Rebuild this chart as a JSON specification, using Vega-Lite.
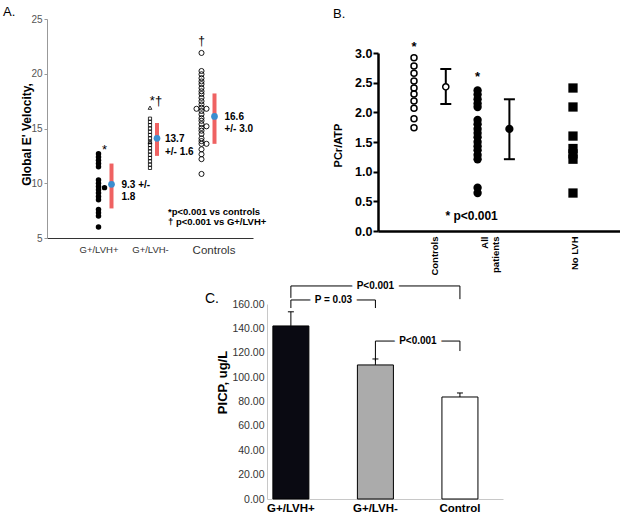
{
"$schema": "https://vega.github.io/schema/vega-lite/v6.json",
"padding": {"left": 3, "top": 6, "right": 0, "bottom": 0},
"background": "white",
"config": {"font": "Liberation Sans", "view": {"stroke": null}, "axis": {"grid": false}},
"datasets": {
"velocity": [
{"group":"G+/LVH+","value":12.7},{"group":"G+/LVH+","value":12.4},{"group":"G+/LVH+","value":12.1},{"group":"G+/LVH+","value":11.8},{"group":"G+/LVH+","value":11.5},{"group":"G+/LVH+","value":10.3},{"group":"G+/LVH+","value":10.0},{"group":"G+/LVH+","value":9.7},{"group":"G+/LVH+","value":9.4},{"group":"G+/LVH+","value":9.1},{"group":"G+/LVH+","value":8.8},{"group":"G+/LVH+","value":8.5},{"group":"G+/LVH+","value":7.6},{"group":"G+/LVH+","value":7.3},{"group":"G+/LVH+","value":7.0},{"group":"G+/LVH+","value":6.0},
{"group":"G+/LVH-","value":15.9},{"group":"G+/LVH-","value":15.6},{"group":"G+/LVH-","value":15.3},{"group":"G+/LVH-","value":15.0},{"group":"G+/LVH-","value":14.7},{"group":"G+/LVH-","value":14.4},{"group":"G+/LVH-","value":14.1},{"group":"G+/LVH-","value":13.8},{"group":"G+/LVH-","value":13.5},{"group":"G+/LVH-","value":13.2},{"group":"G+/LVH-","value":12.9},{"group":"G+/LVH-","value":12.6},{"group":"G+/LVH-","value":12.3},{"group":"G+/LVH-","value":12.0},{"group":"G+/LVH-","value":11.7},{"group":"G+/LVH-","value":11.4},
{"group":"Controls","value":21.9},{"group":"Controls","value":20.25},{"group":"Controls","value":19.95},{"group":"Controls","value":19.6},{"group":"Controls","value":19.3},{"group":"Controls","value":19.05},{"group":"Controls","value":18.7},{"group":"Controls","value":18.4},{"group":"Controls","value":18.15},{"group":"Controls","value":17.8},{"group":"Controls","value":17.5},{"group":"Controls","value":17.2},{"group":"Controls","value":16.9},{"group":"Controls","value":16.6},{"group":"Controls","value":16.3},{"group":"Controls","value":15.95},{"group":"Controls","value":15.7},{"group":"Controls","value":15.4},{"group":"Controls","value":15.05},{"group":"Controls","value":14.8},{"group":"Controls","value":14.5},{"group":"Controls","value":14.1},{"group":"Controls","value":13.85},{"group":"Controls","value":13.6},{"group":"Controls","value":13.1},{"group":"Controls","value":12.65},{"group":"Controls","value":12.2},{"group":"Controls","value":10.85}
],
"velocity_offset": [
{"group":"G+/LVH+","value":9.6,"side":"right"},
{"group":"Controls","value":16.8,"side":"left"},
{"group":"Controls","value":16.8,"side":"right"},
{"group":"Controls","value":15.2,"side":"right"},
{"group":"Controls","value":13.6,"side":"right"}
],
"velocity_triangles": [{"group":"G+/LVH-","value":16.9},{"group":"G+/LVH-","value":13.75}],
"summaryA": [
{"group":"G+/LVH+","value":9.9,"lo":7.7,"hi":11.8,"label":"9.3 +/-\n1.8"},
{"group":"G+/LVH-","value":14.1,"lo":12.5,"hi":15.5,"label":"13.7\n+/- 1.6"},
{"group":"Controls","value":16.1,"lo":13.6,"hi":18.2,"label":"16.6\n+/- 3.0"}
],
"notesA": [
{"group":"G+/LVH+","value":13.0,"text":"*"},
{"group":"G+/LVH-","value":17.5,"text":"*†"},
{"group":"Controls","value":23.0,"text":"†"}
],
"footA": [
{"group":"G+/LVH-","value":7.4,"text":"*p<0.001 vs controls"},
{"group":"G+/LVH-","value":6.5,"text":"† p<0.001 vs G+/LVH+"}
],
"pcr": [
{"group":"Controls","value":2.92},{"group":"Controls","value":2.78},{"group":"Controls","value":2.66},{"group":"Controls","value":2.53},{"group":"Controls","value":2.41},{"group":"Controls","value":2.31},{"group":"Controls","value":2.19},{"group":"Controls","value":2.07},{"group":"Controls","value":1.89},{"group":"Controls","value":1.74},
{"group":"All patients","value":2.37},{"group":"All patients","value":2.30},{"group":"All patients","value":2.22},{"group":"All patients","value":2.15},{"group":"All patients","value":2.09},{"group":"All patients","value":1.87},{"group":"All patients","value":1.80},{"group":"All patients","value":1.72},{"group":"All patients","value":1.65},{"group":"All patients","value":1.58},{"group":"All patients","value":1.50},{"group":"All patients","value":1.43},{"group":"All patients","value":1.36},{"group":"All patients","value":1.28},{"group":"All patients","value":1.21},{"group":"All patients","value":0.73},{"group":"All patients","value":0.64},
{"group":"No LVH","value":2.41},{"group":"No LVH","value":2.09},{"group":"No LVH","value":1.60},{"group":"No LVH","value":1.39},{"group":"No LVH","value":1.30},{"group":"No LVH","value":1.21},{"group":"No LVH","value":0.64}
],
"pcrSummary": [
{"group":"Controls mean","value":2.43,"lo":2.14,"hi":2.73},
{"group":"All patients mean","value":1.72,"lo":1.21,"hi":2.22}
],
"notesB": [{"group":"Controls","value":3.1,"text":"*"},{"group":"All patients","value":2.6,"text":"*"}],
"pB": [{"group":"All patients","value":0.25,"text":"* p<0.001"}],
"picp": [
{"group":"G+/LVH+","value":142,"upper":153.6},
{"group":"G+/LVH-","value":110,"upper":114.9},
{"group":"Control","value":83.7,"upper":87}
],
"brackets": [
{"bracket":"b1","group":"G+/LVH+","value":165,"step":1},{"bracket":"b1","group":"G+/LVH+","value":174.8,"step":2},{"bracket":"b1","group":"Control","value":174.8,"step":3},{"bracket":"b1","group":"Control","value":164,"step":4},
{"bracket":"b2","group":"G+/LVH+","value":156.7,"step":1},{"bracket":"b2","group":"G+/LVH+","value":163.3,"step":2},{"bracket":"b2","group":"G+/LVH-","value":163.3,"step":3},{"bracket":"b2","group":"G+/LVH-","value":156.7,"step":4},
{"bracket":"b3","group":"G+/LVH-","value":113.2,"step":1},{"bracket":"b3","group":"G+/LVH-","value":129.6,"step":2},{"bracket":"b3","group":"Control","value":129.6,"step":3},{"bracket":"b3","group":"Control","value":121.4,"step":4}
],
"pvals": [
{"bracket":"b1","group":"G+/LVH-","value":174.8,"text":"P<0.001"},
{"bracket":"b2","group":"G+/LVH+","value":163.3,"text":"P = 0.03"},
{"bracket":"b3","group":"G+/LVH-","value":129.6,"text":"P<0.001"}
]
},
"vconcat": [
{
"hconcat": [
{
"width": 206, "height": 219,
"title": {"text": "A.", "anchor": "start", "frame": "group", "dx": -44, "dy": 5, "fontSize": 13, "fontWeight": "normal", "offset": 0},
"encoding": {
"x": {"field": "group", "type": "nominal", "scale": {"type": "point", "domain": ["G+/LVH+", "G+/LVH-", "Controls"], "padding": 1},
"axis": {"title": null, "labelAngle": 0, "ticks": false, "domainColor": "#333", "labelColor": "#333", "labelFontSize": {"condition": {"test": "datum.value == 'Controls'", "value": 11.5}, "value": 9.5}, "labelPadding": 6, "labelOffset": {"condition": {"test": "datum.value == 'Controls'", "value": 12}, "value": 0}}},
"y": {"field": "value", "type": "quantitative", "scale": {"domain": [5, 25], "nice": false, "zero": false}, "title": "Global E' Velocity,",
"axis": {"values": [5, 10, 15, 20, 25], "labelColor": "#555", "labelFontSize": 10, "domainColor": "#999", "tickColor": "#999", "tickSize": 3, "labelPadding": 2, "titleFontSize": 12, "titleFontWeight": "bold", "titleColor": "black", "titleX": -21, "titleY": 115, "titleBaseline": "middle", "titleAngle": -90}}
},
"layer": [
{"data": {"name": "velocity"}, "transform": [{"filter": "datum.group == 'G+/LVH+'"}], "mark": {"type": "circle", "size": 30, "color": "black", "opacity": 1}},
{"data": {"name": "velocity"}, "transform": [{"filter": "datum.group == 'G+/LVH-'"}], "mark": {"type": "point", "shape": "square", "size": 10, "filled": false, "color": "black", "strokeWidth": 0.8, "opacity": 1}},
{"data": {"name": "velocity"}, "transform": [{"filter": "datum.group == 'Controls'"}], "mark": {"type": "point", "shape": "circle", "size": 26, "filled": false, "color": "black", "strokeWidth": 0.9, "opacity": 1}},
{"data": {"name": "velocity_triangles"}, "mark": {"type": "point", "shape": "triangle-up", "size": 14, "filled": false, "color": "black", "strokeWidth": 0.8, "opacity": 1}},
{"data": {"name": "velocity_offset"}, "transform": [{"filter": "datum.group == 'G+/LVH+'"}], "mark": {"type": "circle", "size": 30, "color": "black", "opacity": 1}, "encoding": {"xOffset": {"value": 6}}},
{"data": {"name": "velocity_offset"}, "transform": [{"filter": "datum.group == 'Controls' && datum.side == 'right'"}], "mark": {"type": "point", "shape": "circle", "size": 26, "filled": false, "color": "black", "strokeWidth": 0.9, "opacity": 1}, "encoding": {"xOffset": {"value": 5}}},
{"data": {"name": "velocity_offset"}, "transform": [{"filter": "datum.group == 'Controls' && datum.side == 'left'"}], "mark": {"type": "point", "shape": "circle", "size": 26, "filled": false, "color": "black", "strokeWidth": 0.9, "opacity": 1}, "encoding": {"xOffset": {"value": -5}}},
{"data": {"name": "summaryA"}, "transform": [{"filter": "datum.group != 'G+/LVH-'"}], "mark": {"type": "rule", "color": "#ef6262", "strokeWidth": 4}, "encoding": {"y": {"field": "lo", "type": "quantitative", "title": "Global E' Velocity,"}, "y2": {"field": "hi"}, "xOffset": {"value": 13}}},
{"data": {"name": "summaryA"}, "transform": [{"filter": "datum.group == 'G+/LVH-'"}], "mark": {"type": "rule", "color": "#ef6262", "strokeWidth": 4}, "encoding": {"y": {"field": "lo", "type": "quantitative", "title": "Global E' Velocity,"}, "y2": {"field": "hi"}, "xOffset": {"value": 7}}},
{"data": {"name": "summaryA"}, "transform": [{"filter": "datum.group != 'G+/LVH-'"}], "mark": {"type": "circle", "size": 45, "color": "#3a8ed0", "opacity": 1}, "encoding": {"xOffset": {"value": 13}}},
{"data": {"name": "summaryA"}, "transform": [{"filter": "datum.group == 'G+/LVH-'"}], "mark": {"type": "circle", "size": 45, "color": "#3a8ed0", "opacity": 1}, "encoding": {"xOffset": {"value": 7}}},
{"data": {"name": "summaryA"}, "transform": [{"filter": "datum.group != 'G+/LVH-'"}], "mark": {"type": "text", "align": "left", "baseline": "top", "dx": 23, "dy": -4, "fontSize": 10, "fontWeight": "bold", "lineBreak": "\n", "lineHeight": 12, "color": "black"}, "encoding": {"text": {"field": "label"}}},
{"data": {"name": "summaryA"}, "transform": [{"filter": "datum.group == 'G+/LVH-'"}], "mark": {"type": "text", "align": "left", "baseline": "top", "dx": 15, "dy": -4, "fontSize": 10, "fontWeight": "bold", "lineBreak": "\n", "lineHeight": 13, "color": "black"}, "encoding": {"text": {"field": "label"}}},
{"data": {"name": "notesA"}, "transform": [{"filter": "datum.group != 'Controls'"}], "mark": {"type": "text", "align": "center", "baseline": "middle", "dx": 6, "fontSize": 13, "color": "black"}, "encoding": {"text": {"field": "text"}}},
{"data": {"name": "notesA"}, "transform": [{"filter": "datum.group == 'Controls'"}], "mark": {"type": "text", "align": "center", "baseline": "middle", "fontSize": 12, "color": "black"}, "encoding": {"text": {"field": "text"}}},
{"data": {"name": "footA"}, "mark": {"type": "text", "align": "left", "baseline": "middle", "dx": 18, "fontSize": 9.5, "fontWeight": "bold", "color": "black"}, "encoding": {"text": {"field": "text"}}}
]
},
{
"vconcat": [
{"data": {"values": []}, "mark": "point", "width": 10, "height": 24},
{
"width": 242, "height": 178,
"title": {"text": "B.", "anchor": "start", "frame": "group", "dx": -45, "dy": -20, "fontSize": 13, "fontWeight": "normal", "offset": 0},
"encoding": {
"x": {"field": "group", "type": "nominal", "scale": {"type": "point", "domain": ["Controls", "Controls mean", "All patients", "All patients mean", " ", "No LVH", "  "], "padding": 0.805, "align": 0.703},
"axis": {"title": null, "values": ["Controls", "All patients", "No LVH"], "labelAngle": -90, "labelFontWeight": "bold", "labelFontSize": 9.5, "labelColor": "black", "ticks": false, "domainColor": "black", "domainWidth": 2.5, "labelPadding": 5, "labelLineHeight": 11, "labelExpr": "datum.value == 'All patients' ? ['All', 'patients'] : datum.value", "labelOffset": {"condition": [{"test": "datum.value == 'Controls'", "value": 21}, {"test": "datum.value == 'All patients'", "value": 7}], "value": 2}}},
"y": {"field": "value", "type": "quantitative", "scale": {"domain": [0, 3], "nice": false}, "title": "PCr/ATP",
"axis": {"values": [0, 0.5, 1, 1.5, 2, 2.5, 3], "format": ".1f", "labelFontWeight": "bold", "labelFontSize": 12.5, "labelColor": "black", "tickColor": "black", "tickWidth": 2, "tickSize": 5, "domainColor": "black", "domainWidth": 2.5, "labelPadding": 1, "titleFontWeight": "bold", "titleFontSize": 11, "titleColor": "black", "titleX": -40, "titleY": 92, "titleBaseline": "middle", "titleAngle": -90}}
},
"layer": [
{"data": {"name": "pcr"}, "transform": [{"filter": "datum.group == 'Controls'"}], "mark": {"type": "point", "shape": "circle", "size": 36, "filled": false, "color": "black", "strokeWidth": 1.5, "opacity": 1}},
{"data": {"name": "pcr"}, "transform": [{"filter": "datum.group == 'All patients'"}], "mark": {"type": "circle", "size": 70, "color": "black", "opacity": 1}},
{"data": {"name": "pcr"}, "transform": [{"filter": "datum.group == 'No LVH'"}], "mark": {"type": "square", "size": 86, "color": "black", "opacity": 1}},
{"data": {"name": "pcrSummary"}, "mark": {"type": "rule", "color": "black", "strokeWidth": 2}, "encoding": {"y": {"field": "lo", "type": "quantitative", "title": "PCr/ATP"}, "y2": {"field": "hi"}}},
{"data": {"name": "pcrSummary"}, "mark": {"type": "tick", "orient": "horizontal", "size": 11, "thickness": 2, "color": "black", "opacity": 1}, "encoding": {"y": {"field": "lo", "type": "quantitative", "title": "PCr/ATP"}}},
{"data": {"name": "pcrSummary"}, "mark": {"type": "tick", "orient": "horizontal", "size": 11, "thickness": 2, "color": "black", "opacity": 1}, "encoding": {"y": {"field": "hi", "type": "quantitative", "title": "PCr/ATP"}}},
{"data": {"name": "pcrSummary"}, "transform": [{"filter": "datum.group == 'Controls mean'"}], "mark": {"type": "point", "shape": "circle", "size": 38, "filled": true, "fill": "white", "stroke": "black", "strokeWidth": 1.5, "opacity": 1}},
{"data": {"name": "pcrSummary"}, "transform": [{"filter": "datum.group == 'All patients mean'"}], "mark": {"type": "circle", "size": 68, "color": "black", "opacity": 1}},
{"data": {"name": "notesB"}, "mark": {"type": "text", "align": "center", "baseline": "middle", "fontSize": 13, "fontWeight": "bold", "color": "black"}, "encoding": {"text": {"field": "text"}}},
{"data": {"name": "pB"}, "mark": {"type": "text", "align": "center", "baseline": "middle", "dx": -6, "fontSize": 12, "fontWeight": "bold", "color": "black"}, "encoding": {"text": {"field": "text"}}}
]
}
],
"spacing": 10, "bounds": "flush"
}
],
"spacing": 125, "bounds": "flush"
},
{
"hconcat": [
{"data": {"values": []}, "mark": "point", "width": 210, "height": 10},
{
"width": 236, "height": 195,
"title": {"text": "C.", "anchor": "start", "frame": "group", "dx": -62, "dy": 25, "fontSize": 14, "fontWeight": "normal", "offset": 0},
"encoding": {
"x": {"field": "group", "type": "nominal", "scale": {"type": "band", "domain": ["G+/LVH+", "G+/LVH-", "Control"], "paddingInner": 0.574, "paddingOuter": 0.183, "align": 0.19},
"axis": {"title": null, "labelAngle": 0, "ticks": false, "domainColor": "#c8c8c8", "labelColor": "black", "labelFontWeight": "bold", "labelFontSize": 11.5, "labelPadding": 3}},
"y": {"field": "value", "type": "quantitative", "scale": {"domain": [0, 160], "nice": false}, "title": "PICP, ug/L",
"axis": {"values": [0, 20, 40, 60, 80, 100, 120, 140, 160], "format": ".2f", "ticks": false, "domainColor": "#c8c8c8", "labelColor": "#333", "labelFontSize": 10.5, "labelPadding": 3, "titleFontWeight": "bold", "titleFontSize": 13, "titleColor": "black", "titleX": -45, "titleY": 78, "titleBaseline": "middle", "titleAngle": -90}}
},
"layer": [
{"data": {"name": "picp"}, "mark": {"type": "bar", "stroke": "black", "strokeWidth": 1}, "encoding": {"color": {"field": "group", "type": "nominal", "scale": {"domain": ["G+/LVH+", "G+/LVH-", "Control"], "range": ["#0a0a12", "#ababab", "#ffffff"]}, "legend": null}}},
{"data": {"name": "picp"}, "mark": {"type": "rule", "color": "black", "strokeWidth": 1}, "encoding": {"y2": {"field": "upper"}}},
{"data": {"name": "picp"}, "mark": {"type": "tick", "orient": "horizontal", "size": 6, "thickness": 1, "color": "black", "opacity": 1}, "encoding": {"y": {"field": "upper", "type": "quantitative", "title": "PICP, ug/L"}}},
{"data": {"name": "brackets"}, "mark": {"type": "line", "color": "black", "strokeWidth": 1}, "encoding": {"detail": {"field": "bracket"}, "order": {"field": "step", "type": "quantitative"}}},
{"data": {"name": "pvals"}, "transform": [{"filter": "datum.bracket == 'b1'"}], "mark": {"type": "text", "align": "center", "baseline": "middle", "fontSize": 10, "fontWeight": "bold", "fill": "white", "stroke": "white", "strokeWidth": 10}, "encoding": {"text": {"field": "text"}}},
{"data": {"name": "pvals"}, "transform": [{"filter": "datum.bracket != 'b1'"}], "mark": {"type": "text", "align": "center", "baseline": "middle", "dx": 42.5, "fontSize": 10, "fontWeight": "bold", "fill": "white", "stroke": "white", "strokeWidth": 10}, "encoding": {"text": {"field": "text"}}},
{"data": {"name": "pvals"}, "transform": [{"filter": "datum.bracket == 'b1'"}], "mark": {"type": "text", "align": "center", "baseline": "middle", "fontSize": 10, "fontWeight": "bold", "color": "black"}, "encoding": {"text": {"field": "text"}}},
{"data": {"name": "pvals"}, "transform": [{"filter": "datum.bracket != 'b1'"}], "mark": {"type": "text", "align": "center", "baseline": "middle", "dx": 42.5, "fontSize": 10, "fontWeight": "bold", "color": "black"}, "encoding": {"text": {"field": "text"}}}
]
}
],
"spacing": 10, "bounds": "flush"
}
],
"spacing": 285, "bounds": "flush"
}
